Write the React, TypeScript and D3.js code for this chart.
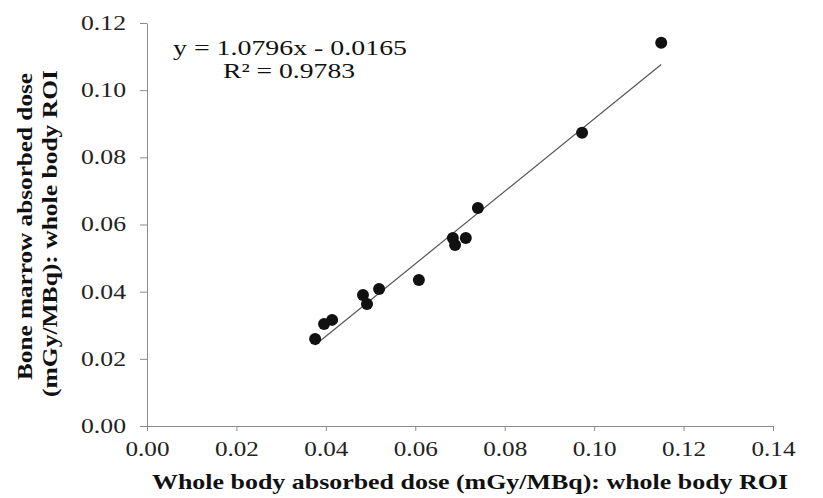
import React, { useEffect, useRef } from 'react';
import * as d3 from 'd3';

// whole body ROI dose vs bone marrow dose
const wholeBody = [0.0376, 0.0396, 0.0414, 0.0483, 0.0492, 0.0519, 0.0608, 0.0684, 0.0689, 0.0713, 0.0740, 0.0973, 0.1150];
const boneMarrow = [0.0259, 0.0304, 0.0316, 0.0390, 0.0363, 0.0408, 0.0435, 0.0560, 0.0539, 0.0560, 0.0649, 0.0873, 0.1141];
const xTicks = [0, 0.02, 0.04, 0.06, 0.08, 0.10, 0.12, 0.14];
const yTicks = [0, 0.02, 0.04, 0.06, 0.08, 0.10, 0.12];
const slope = 1.0796;
const intercept = -0.0165;
const fitLabel = 'y = 1.0796x - 0.0165';
const r2Label = 'R² = 0.9783';
const xTitle = 'Whole body absorbed dose (mGy/MBq): whole body ROI';
const yTitle = ['Bone marrow absorbed dose', '(mGy/MBq): whole body ROI'];

const W = 823;
const H = 498;
const font = '"Liberation Serif", "Times New Roman", serif';

export default function App() {
  const ref = useRef<SVGSVGElement>(null);

  useEffect(() => {
    const svg = d3.select(ref.current);
    svg.selectAll('*').remove();

    const x = d3.scaleLinear().domain([0, 0.14]).range([147, 773]);
    const y = d3.scaleLinear().domain([0, 0.12]).range([426, 23]);
    const axisColor = '#8c8c8c';

    // y axis
    const gy = svg.append('g').attr('transform', 'translate(147,0)')
      .call(d3.axisLeft(y).tickValues(yTicks).tickFormat(d3.format('.2f')).tickSize(7).tickSizeOuter(0));
    gy.select('.domain').attr('stroke', axisColor);
    gy.selectAll('line').attr('stroke', axisColor);
    gy.selectAll('text').attr('font-family', font).attr('font-size', 20).attr('fill', '#222')
      .attr('x', -21).attr('textLength', 45).attr('lengthAdjust', 'spacingAndGlyphs');

    // x axis
    const gx = svg.append('g').attr('transform', 'translate(0,426)')
      .call(d3.axisBottom(x).tickValues(xTicks).tickFormat(d3.format('.2f')).tickSize(5).tickSizeOuter(0));
    gx.select('.domain').attr('stroke', axisColor);
    gx.selectAll('line').attr('stroke', axisColor);
    gx.selectAll('text').attr('font-family', font).attr('font-size', 20).attr('fill', '#222')
      .attr('y', 16).attr('textLength', 44).attr('lengthAdjust', 'spacingAndGlyphs');

    // trendline
    const x0 = d3.min(wholeBody) as number;
    const x1 = d3.max(wholeBody) as number;
    svg.append('line')
      .attr('x1', x(x0)).attr('y1', y(slope * x0 + intercept))
      .attr('x2', x(x1)).attr('y2', y(slope * x1 + intercept))
      .attr('stroke', '#555').attr('stroke-width', 1.2);

    // points
    svg.append('g').selectAll('circle')
      .data(wholeBody)
      .join('circle')
      .attr('cx', d => x(d))
      .attr('cy', (d, i) => y(boneMarrow[i]))
      .attr('r', 6)
      .attr('fill', '#111');

    // equation
    svg.append('text').attr('x', 173).attr('y', 55)
      .attr('font-family', font).attr('font-size', 22).attr('fill', '#111')
      .attr('textLength', 234).attr('lengthAdjust', 'spacingAndGlyphs').text(fitLabel);
    svg.append('text').attr('x', 223).attr('y', 78)
      .attr('font-family', font).attr('font-size', 22).attr('fill', '#111')
      .attr('textLength', 132).attr('lengthAdjust', 'spacingAndGlyphs').text(r2Label);

    // axis titles
    svg.append('text').attr('x', 152).attr('y', 489)
      .attr('font-family', font).attr('font-size', 21).attr('font-weight', 'bold').attr('fill', '#111')
      .attr('textLength', 636).attr('lengthAdjust', 'spacingAndGlyphs')
      .text(xTitle);

    const yt = svg.append('text').attr('transform', 'translate(0,0) rotate(-90)')
      .attr('font-family', font).attr('font-size', 21)
      .attr('font-weight', 'bold').attr('fill', '#111');
    yt.append('tspan').attr('x', -380).attr('y', 32).attr('textLength', 307)
      .attr('lengthAdjust', 'spacingAndGlyphs').text(yTitle[0]);
    yt.append('tspan').attr('x', -397).attr('y', 57).attr('textLength', 327)
      .attr('lengthAdjust', 'spacingAndGlyphs').text(yTitle[1]);
  }, []);

  return (
    <svg ref={ref} width={W} height={H} style={{ position: 'absolute', left: 0, top: 0, background: '#fff' }} />
  );
}
